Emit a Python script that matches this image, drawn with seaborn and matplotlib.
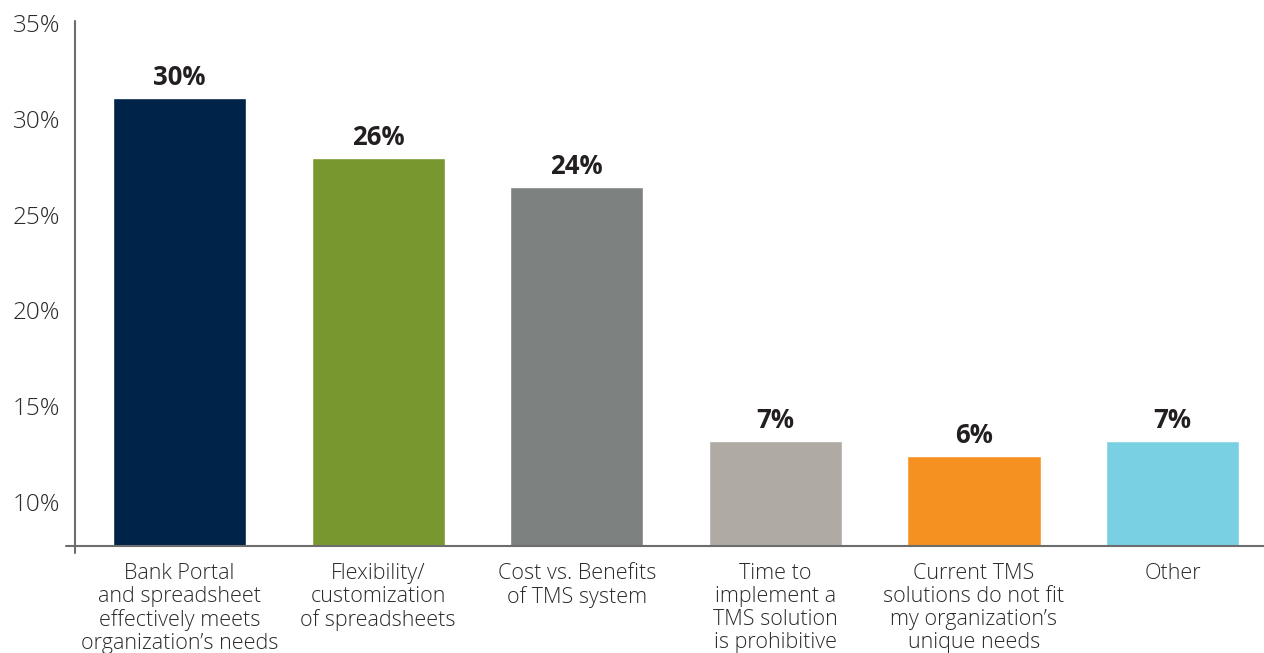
import matplotlib
matplotlib.use("Agg")
import matplotlib.pyplot as plt
from matplotlib.lines import Line2D
import seaborn as sns
import pandas as pd

# Survey responses: reasons for not adopting a TMS
categories = [
    "Bank Portal\nand spreadsheet\neffectively meets\norganization’s needs",
    "Flexibility/\ncustomization\nof spreadsheets",
    "Cost vs. Benefits\nof TMS system",
    "Time to\nimplement a\nTMS solution\nis prohibitive",
    "Current TMS\nsolutions do not fit\nmy organization’s\nunique needs",
    "Other",
]
values = [30, 26, 24, 7, 6, 7]
bar_colors = ["#00234A", "#78972F", "#7D8281", "#AFAAA3", "#F59120", "#79D0E2"]
tick_values = [10, 15, 20, 25, 30, 35]
tick_labels = ["10%", "15%", "20%", "25%", "30%", "35%"]

sns.set_theme(style="white")
plt.rcParams["font.family"] = ["Open Sans", "DejaVu Sans"]

df = pd.DataFrame({"category": categories, "value": values})

fig = plt.figure(figsize=(12.64, 6.53), dpi=100)
ax = fig.add_axes([75 / 1264, 107 / 653, 1189 / 1264, 525 / 653])

sns.barplot(data=df, x="category", y="value", hue="category",
            palette=bar_colors, width=0.67, legend=False, ax=ax,
            saturation=1.0)

ax.set_ylim(0, 35.14)
ax.set_xlim(-0.526, 5.46)
ax.set_xlabel("")
ax.set_ylabel("")
ax.set_yticks([])

for i, v in enumerate(values):
    ax.annotate(f"{v}%", (i, v), xytext=(0, 5), textcoords="offset points",
                ha="center", va="bottom", fontsize=18.5, fontweight="bold",
                color="#231F20")

ax.tick_params(axis="x", length=0, pad=12)
for lbl in ax.get_xticklabels():
    lbl.set_fontsize(15.5)
    lbl.set_fontweight("light")
    lbl.set_color("#2A2A2A")
    lbl.set_linespacing(1.13)
    lbl.set_va("top")

# Percentage scale shown on the left axis
ax2 = ax.twinx()
ax2.set_ylim(7.70, 35.11)
ax2.yaxis.set_label_position("left")
ax2.yaxis.tick_left()
ax2.set_yticks(tick_values)
ax2.set_yticklabels(tick_labels, fontsize=17.5, fontweight="light", color="#2A2A2A")
ax2.tick_params(axis="y", length=0, pad=10.5, left=False, right=False,
                labelleft=True, labelright=False)
ax2.grid(False)

for a in (ax, ax2):
    for s in a.spines.values():
        s.set_visible(False)

axis_color = "#6D6D6D"
ax.add_line(Line2D([0, 0], [-0.013, 1.0], transform=ax.transAxes,
                   color=axis_color, lw=1.5, clip_on=False))
ax.add_line(Line2D([-0.0076, 1.0], [0, 0], transform=ax.transAxes,
                   color=axis_color, lw=1.5, clip_on=False))

fig.savefig("out.png", dpi=100)
